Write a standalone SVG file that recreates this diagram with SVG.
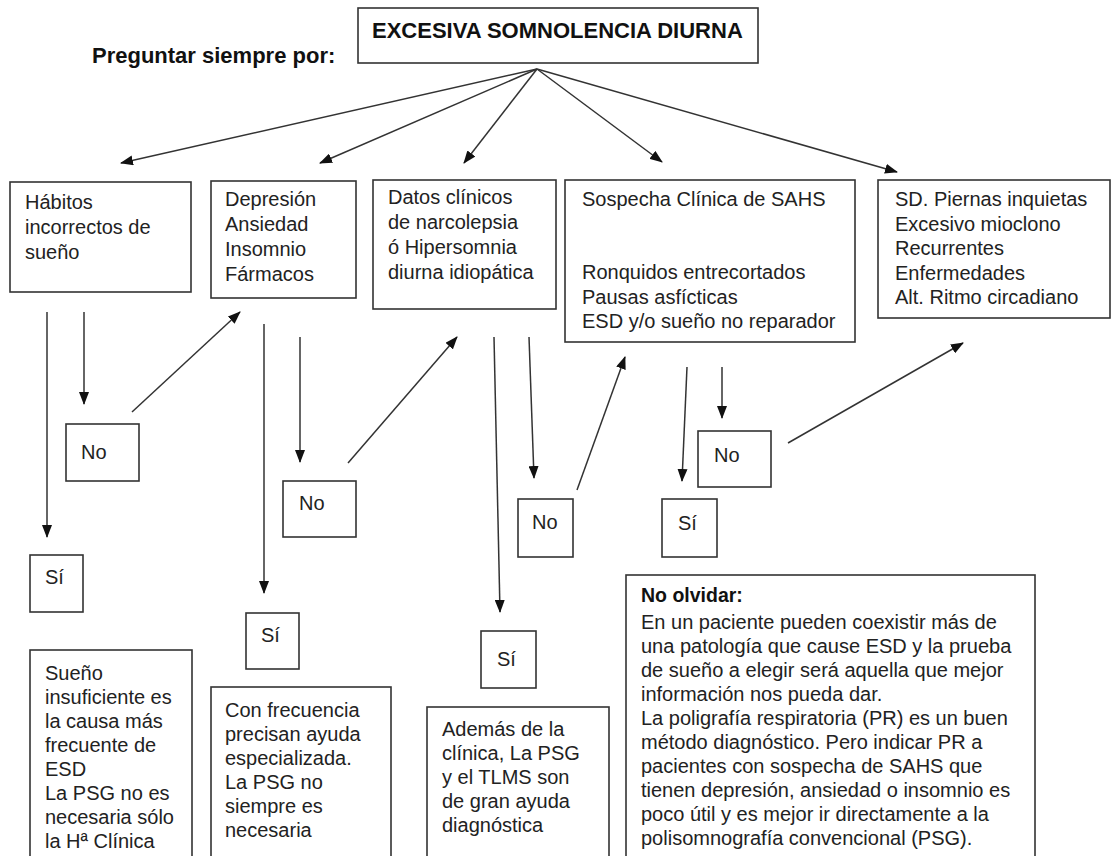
<svg xmlns="http://www.w3.org/2000/svg" width="1115" height="856" viewBox="0 0 1115 856">
<style>
.box{fill:#fff;stroke:#333;stroke-width:1.6}
.t{font-family:"Liberation Sans",Arial,sans-serif;font-size:20px;fill:#222}
.b{font-family:"Liberation Sans",Arial,sans-serif;font-weight:bold;fill:#111}
.c{stroke:#333;stroke-width:1.5;fill:none;marker-end:url(#ah)}
</style>
<defs>
<marker id="ah" markerUnits="userSpaceOnUse" markerWidth="13" markerHeight="10" refX="12" refY="5" orient="auto">
<path d="M0,0 L13,5 L0,10 z" fill="#111"/>
</marker>
</defs>
<rect width="1115" height="856" fill="#fff"/>
<g id="title">
<rect class="box" x="358" y="8" width="400" height="55"/>
<text class="b" x="372" y="38" font-size="22">EXCESIVA SOMNOLENCIA DIURNA</text>
</g>
<g id="preguntar">
<text class="b" x="92" y="63" font-size="22">Preguntar siempre por:</text>
</g>
<g id="connectors">
<line class="c" x1="537" y1="69" x2="121" y2="163"/>
<line class="c" x1="537" y1="69" x2="320" y2="163"/>
<line class="c" x1="537" y1="69" x2="464" y2="163"/>
<line class="c" x1="537" y1="69" x2="662" y2="162"/>
<line class="c" x1="537" y1="69" x2="897" y2="172"/>
<line class="c" x1="47" y1="312" x2="47" y2="537"/>
<line class="c" x1="84" y1="312" x2="84" y2="404"/>
<line class="c" x1="132" y1="412" x2="240" y2="312"/>
<line class="c" x1="264" y1="324" x2="264" y2="593"/>
<line class="c" x1="300" y1="337" x2="300" y2="462"/>
<line class="c" x1="348" y1="463" x2="457" y2="337"/>
<line class="c" x1="494" y1="337" x2="500" y2="612"/>
<line class="c" x1="529" y1="337" x2="534" y2="478"/>
<line class="c" x1="577" y1="490" x2="625" y2="357"/>
<line class="c" x1="687" y1="367" x2="682" y2="481"/>
<line class="c" x1="722" y1="367" x2="722" y2="418"/>
<line class="c" x1="788" y1="443" x2="963" y2="343"/>
</g>
<g id="habitos">
<rect class="box" x="10" y="182" width="181" height="110"/>
<text class="t"><tspan x="25" y="209">Hábitos</tspan><tspan x="25" y="234">incorrectos de</tspan><tspan x="25" y="259">sueño</tspan></text>
</g>
<g id="depresion">
<rect class="box" x="211" y="181" width="145" height="117"/>
<text class="t"><tspan x="225" y="206">Depresión</tspan><tspan x="225" y="231">Ansiedad</tspan><tspan x="225" y="256">Insomnio</tspan><tspan x="225" y="281">Fármacos</tspan></text>
</g>
<g id="datos">
<rect class="box" x="373" y="180" width="183" height="129"/>
<text class="t"><tspan x="388" y="204">Datos clínicos</tspan><tspan x="388" y="229">de narcolepsia</tspan><tspan x="388" y="254">ó Hipersomnia</tspan><tspan x="388" y="279">diurna idiopática</tspan></text>
</g>
<g id="sahs">
<rect class="box" x="565" y="180" width="290" height="162"/>
<text class="t"><tspan x="582" y="206">Sospecha Clínica de SAHS</tspan><tspan x="582" y="279">Ronquidos entrecortados</tspan><tspan x="582" y="304">Pausas asfícticas</tspan><tspan x="582" y="328">ESD y/o sueño no reparador</tspan></text>
</g>
<g id="sd">
<rect class="box" x="878" y="180" width="232" height="138"/>
<text class="t"><tspan x="895" y="206">SD. Piernas inquietas</tspan><tspan x="895" y="231">Excesivo mioclono</tspan><tspan x="895" y="255">Recurrentes</tspan><tspan x="895" y="280">Enfermedades</tspan><tspan x="895" y="304">Alt. Ritmo circadiano</tspan></text>
</g>
<g id="no1">
<rect class="box" x="66" y="424" width="73" height="57"/>
<text class="t" x="81" y="459">No</text>
</g>
<g id="si1">
<rect class="box" x="30" y="555" width="53" height="57"/>
<text class="t" x="45" y="584">Sí</text>
</g>
<g id="no2">
<rect class="box" x="283" y="481" width="73" height="56"/>
<text class="t" x="299" y="510">No</text>
</g>
<g id="si2">
<rect class="box" x="246" y="613" width="53" height="56"/>
<text class="t" x="261" y="642">Sí</text>
</g>
<g id="no3">
<rect class="box" x="518" y="499" width="55" height="58"/>
<text class="t" x="532" y="529">No</text>
</g>
<g id="si3">
<rect class="box" x="481" y="631" width="55" height="57"/>
<text class="t" x="497" y="666">Sí</text>
</g>
<g id="si4">
<rect class="box" x="662" y="499" width="55" height="58"/>
<text class="t" x="678" y="530">Sí</text>
</g>
<g id="no4">
<rect class="box" x="698" y="431" width="73" height="56"/>
<text class="t" x="714" y="462">No</text>
</g>
<g id="sueno">
<rect class="box" x="30" y="650" width="162" height="212"/>
<text class="t"><tspan x="45" y="680">Sueño</tspan><tspan x="45" y="704">insuficiente es</tspan><tspan x="45" y="728">la causa más</tspan><tspan x="45" y="752">frecuente de</tspan><tspan x="45" y="776">ESD</tspan><tspan x="45" y="800">La PSG no es</tspan><tspan x="45" y="824">necesaria sólo</tspan><tspan x="45" y="848">la Hª Clínica</tspan></text>
</g>
<g id="confrecuencia">
<rect class="box" x="211" y="687" width="180" height="175"/>
<text class="t"><tspan x="225" y="717">Con frecuencia</tspan><tspan x="225" y="741">precisan ayuda</tspan><tspan x="225" y="765">especializada.</tspan><tspan x="225" y="789">La PSG no</tspan><tspan x="225" y="813">siempre es</tspan><tspan x="225" y="837">necesaria</tspan></text>
</g>
<g id="ademas">
<rect class="box" x="427" y="707" width="182" height="155"/>
<text class="t"><tspan x="442" y="736">Además de la</tspan><tspan x="442" y="760">clínica, La PSG</tspan><tspan x="442" y="784">y el TLMS son</tspan><tspan x="442" y="808">de gran ayuda</tspan><tspan x="442" y="832">diagnóstica</tspan></text>
</g>
<g id="noolvidar">
<rect class="box" x="626" y="575" width="409" height="287"/>
<text class="b" x="641" y="602" font-size="19.5">No olvidar:</text>
<text class="t"><tspan x="641" y="629">En un paciente pueden coexistir más de</tspan><tspan x="641" y="653">una patología que cause ESD y la prueba</tspan><tspan x="641" y="677">de sueño a elegir será aquella que mejor</tspan><tspan x="641" y="701">información nos pueda dar.</tspan><tspan x="641" y="725">La poligrafía respiratoria (PR) es un buen</tspan><tspan x="641" y="749">método diagnóstico. Pero indicar PR a</tspan><tspan x="641" y="773">pacientes con sospecha de SAHS que</tspan><tspan x="641" y="797">tienen depresión, ansiedad o insomnio es</tspan><tspan x="641" y="821">poco útil y es mejor ir directamente a la</tspan><tspan x="641" y="845">polisomnografía convencional (PSG).</tspan></text>
</g>
</svg>
